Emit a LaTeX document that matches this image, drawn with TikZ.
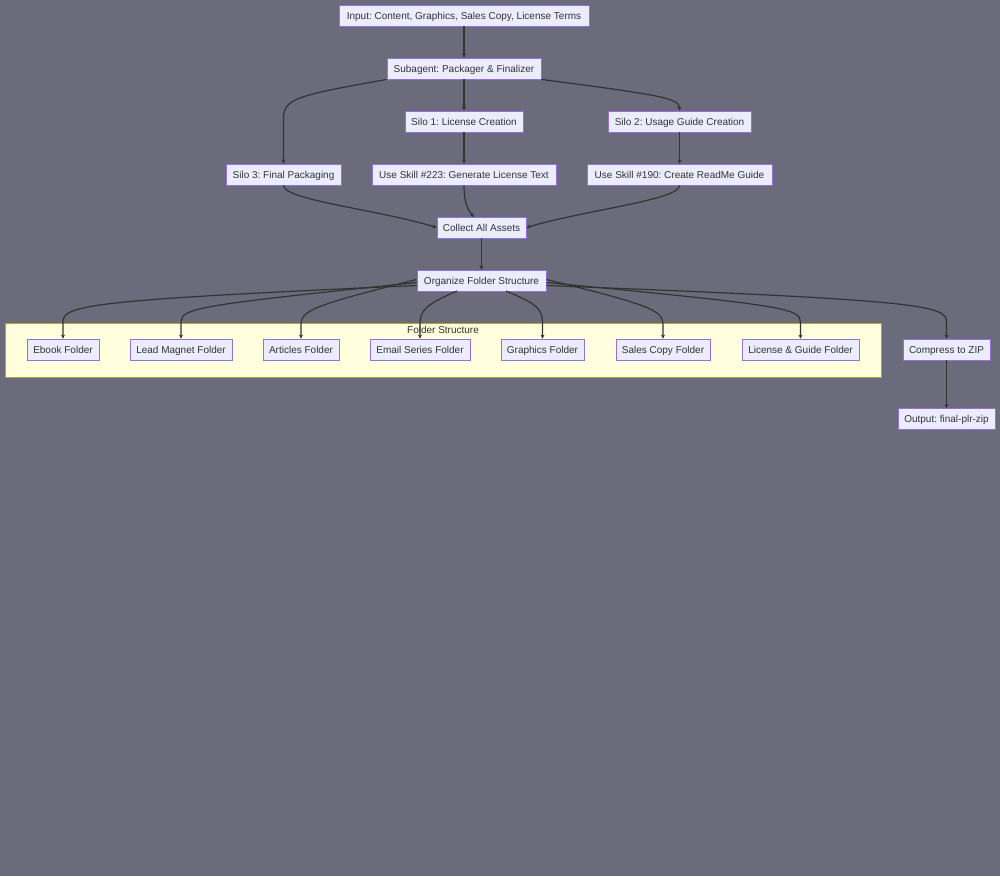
\documentclass[tikz,border=0pt]{standalone}
\usepackage{fontspec}
\setmainfont{Liberation Sans}
\usetikzlibrary{arrows.meta}
\frenchspacing
\definecolor{bg}{HTML}{6B6B7B}
\definecolor{nfill}{HTML}{ECECFF}
\definecolor{nborder}{HTML}{9370DB}
\definecolor{cfill}{HTML}{FFFFDE}
\definecolor{cborder}{HTML}{AAAA33}
\definecolor{txt}{HTML}{333333}
\definecolor{edge}{HTML}{333333}
\tikzset{
  box/.style={draw=nborder, fill=nfill, line width=0.9pt, text=txt, font=\fontsize{10}{12}\selectfont,
    minimum height=21pt, inner sep=0pt, text height=8.6pt, text depth=1pt, anchor=center},
  conn/.style={draw=edge, line width=1.2pt, -{Stealth[length=4pt,width=4pt]}},
}
\begin{document}
\begin{tikzpicture}[x=1pt,y=-1pt]
\fill[bg] (0,0) rectangle (1000,876);
\useasboundingbox (0,0) rectangle (1000,876);
% cluster
\node[draw=cborder, fill=cfill, line width=0.8pt, minimum width=876pt, minimum height=54pt, inner sep=0pt] (clu) at (443,350) {};
\node[text=txt, font=\fontsize{10}{12}\selectfont, inner sep=0pt, text height=8.6pt, text depth=1pt] (clulbl) at (443,329.5) {Folder Structure};
% nodes
\node[box, minimum width=250pt] (inp) at (464,15.5) {Input: Content, Graphics, Sales Copy, License Terms};
\node[box, minimum width=154pt] (sub) at (464,68.5) {Subagent: Packager \& Finalizer};
\node[box, minimum width=118pt] (s1) at (464,121.5) {Silo 1: License Creation};
\node[box, minimum width=143pt] (s2) at (679.5,121.5) {Silo 2: Usage Guide Creation};
\node[box, minimum width=115pt] (s3) at (283.5,174.5) {Silo 3: Final Packaging};
\node[box, minimum width=184pt] (k223) at (464,174.5) {Use Skill \#223: Generate License Text};
\node[box, minimum width=185pt] (k190) at (679.5,174.5) {Use Skill \#190: Create ReadMe Guide};
\node[box, minimum width=89pt] (col) at (481.5,227.5) {Collect All Assets};
\node[box, minimum width=129pt] (org) at (481.5,280.5) {Organize Folder Structure};
\node[box, minimum width=72pt] (f1) at (63,349.5) {Ebook Folder};
\node[box, minimum width=102pt] (f2) at (181,349.5) {Lead Magnet Folder};
\node[box, minimum width=76pt] (f3) at (301,349.5) {Articles Folder};
\node[box, minimum width=100pt] (f4) at (420,349.5) {Email Series Folder};
\node[box, minimum width=83pt] (f5) at (542.5,349.5) {Graphics Folder};
\node[box, minimum width=94pt] (f6) at (663,349.5) {Sales Copy Folder};
\node[box, minimum width=117pt] (f7) at (800.5,349.5) {License \& Guide Folder};
\node[box, minimum width=87pt] (zip) at (946.5,349.5) {Compress to ZIP};
\node[box, minimum width=97pt] (out) at (946.5,419) {Output: final-plr-zip};
% edges
\draw[conn] (inp) -- (sub);
\draw[conn] (sub) -- (s1);
\draw[conn] (sub.south east) .. controls (660,95) and (679.5,98) .. (s2.north);
\draw[conn] (sub.south west) .. controls (300,95) and (283.5,98) .. (283.5,118) -- (s3.north);
\draw[conn] (s1) -- (k223);
\draw[conn] (s2) -- (k190);
\draw[conn] (s3.south) .. controls (283.5,200) and (380,210) .. (col.west);
\draw[conn] (k223.south) .. controls (464,203) and (468,210) .. (474,217);
\draw[conn] (k190.south) .. controls (679.5,200) and (585,210) .. (col.east);
\draw[conn] (col) -- (org);
\draw[conn] ([yshift=-5pt]org.west) .. controls (90,300) and (63,305) .. (63,322) -- (f1.north);
\draw[conn] ([yshift=-2pt]org.west) .. controls (200,305) and (181,308) .. (181,322) -- (f2.north);
\draw[conn] ([yshift=1pt]org.west) .. controls (315,305) and (301,310) .. (301,325) -- (f3.north);
\draw[conn] (457,291) .. controls (425,305) and (420,310) .. (420,325) -- (f4.north);
\draw[conn] (506,291) .. controls (540,305) and (542.5,310) .. (542.5,325) -- (f5.north);
\draw[conn] ([yshift=1pt]org.east) .. controls (650,305) and (663,310) .. (663,325) -- (f6.north);
\draw[conn] ([yshift=-2pt]org.east) .. controls (780,305) and (800.5,308) .. (800.5,322) -- (f7.north);
\draw[conn] ([yshift=-5pt]org.east) .. controls (920,300) and (946.5,305) .. (946.5,322) -- (zip.north);
\draw[conn] (zip) -- (out);
\end{tikzpicture}
\end{document}
